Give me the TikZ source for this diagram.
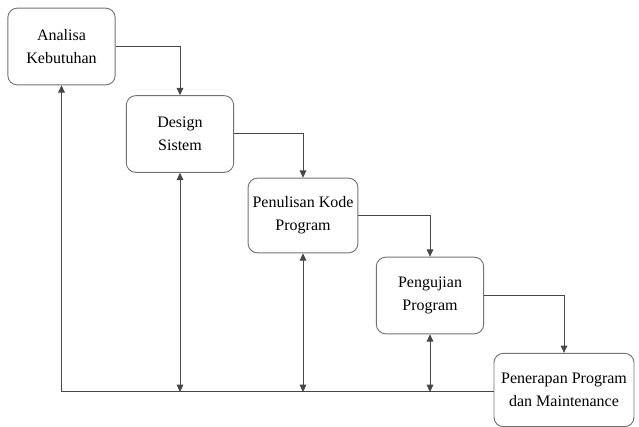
\documentclass[tikz,border=0pt]{standalone}
\usepackage{fontspec}
\setmainfont{Liberation Serif}
\usepackage{tikz}
\usetikzlibrary{positioning,arrows.meta,calc}

\begin{document}
\begin{tikzpicture}[
  x=0.75pt, y=-0.75pt,
  font=\fontsize{12}{17.5}\selectfont,
  box/.style={draw=black!55, rounded corners=7pt, align=center, minimum width=80.5pt, minimum height=57.5pt, line width=0.7pt},
  arr/.style={-{Triangle[length=5.5pt,width=5pt]}, black!72, line width=0.75pt},
  arrb/.style={{Triangle[length=5.5pt,width=5pt]}-{Triangle[length=5.5pt,width=5pt]}, black!72, line width=0.75pt},
  ln/.style={black!72, line width=0.75pt},
]
\useasboundingbox (0,0) rectangle (639,427);
% ---- the five phases, stepping down to the right ----
\node[box] (analisa) at (61.5,46.5) {Analisa\\ Kebutuhan};
\node[box] (design) at (180,134) {Design\\ Sistem};
\node[box, minimum height=56pt] (kode) at (303,215.5) {Penulisan Kode\\ Program};
\node[box] (uji) at (430,295.5) {Pengujian\\ Program};
\node[box, minimum width=105pt, minimum height=55pt] (terap) at (564,390) {Penerapan Program\\ dan Maintenance};
% ---- forward arrows: all orthogonal ----
\draw[arr] (analisa.east) -| (design.north);
\draw[arr] (design.east) -| (kode.north);
\draw[arr] (kode.east) -| (uji.north);
\draw[arr] (uji.east) -| (terap.north);
% ---- feedback line along the bottom ----
\coordinate (base) at ($(analisa.south |- terap.west)+(0,2)$);
\draw[ln] (base -| terap.west) -- (base);
\draw[arr] (base) -- (analisa.south);
\draw[arrb] (design.south) -- (design.south |- base);
\draw[arrb] (kode.south) -- (kode.south |- base);
\draw[arrb] (uji.south) -- (uji.south |- base);
\end{tikzpicture}
\end{document}
